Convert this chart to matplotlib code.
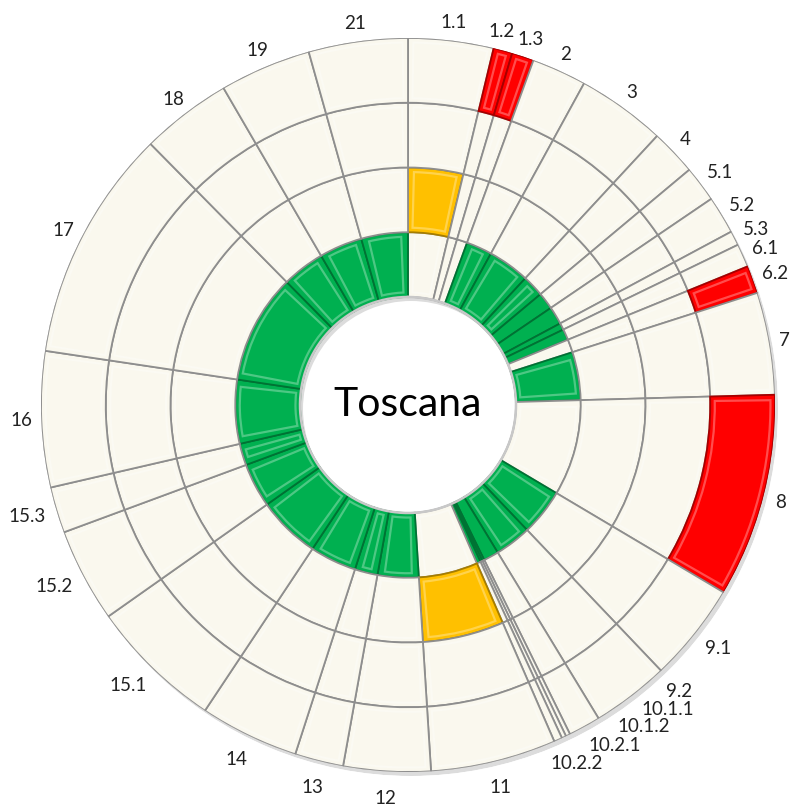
import numpy as np
import matplotlib.pyplot as plt
from matplotlib.colors import to_rgb

# segmenti (in senso orario dalle ore 12), ampiezza in gradi e livello colorato
labels = ["1.1", "1.2", "1.3", "2", "3", "4", "5.1", "5.2", "5.3", "6.1", "6.2",
          "7", "8", "9.1", "9.2", "10.1.1", "10.1.2", "10.2.1", "10.2.2", "11",
          "12", "13", "14", "15.1", "15.2", "15.3", "16", "17", "18", "19", "21"]
widths = [13.5, 3.0, 3.5, 8.7, 14.1, 7.3, 5.7, 6.0, 2.3, 3.7, 4.4,
          16.2, 32.3, 15.7, 12.3, 5.1, 0.7, 0.7, 1.3, 19.9,
          13.8, 7.7, 15.7, 21.2, 14.9, 7.3, 21.5, 36.9, 14.4, 14.5, 15.7]
levels = [2, 4, 4, 1, 1, 1, 1, 1, 1, 1, 4,
          1, 4, 1, 1, 1, 1, 1, 1, 2,
          1, 1, 1, 1, 1, 1, 1, 1, 1, 1, 1]
title = "Toscana"

level_colors = {1: "#00B050", 2: "#FFC000", 3: "#ED7D31", 4: "#FF0000"}
cream = "#FAF8EE"
n_rings = 4
px = 64.75             # pixel per anello
hole = 108 / px


def mix(c, other, f):
    a, b = np.array(to_rgb(c)), np.array(to_rgb(other))
    return tuple(a * (1 - f) + b * f)


plt.rcParams["font.family"] = ["Lato", "DejaVu Sans"]

fig = plt.figure(figsize=(7.91, 8.08), dpi=100)

# ombra esterna leggera (solo la corona)
sh = fig.add_axes([44 / 791, 32 / 808, 734 / 791, 734 / 808], projection="polar")
sh.bar([0], [n_rings], width=2 * np.pi, bottom=hole, color="#dcdcdc",
       edgecolor="none")
sh.set_ylim(0, hole + n_rings)
sh.set_axis_off()

ax = fig.add_axes([41 / 791, 36 / 808, 734 / 791, 734 / 808], projection="polar")
ax.set_theta_zero_location("N")
ax.set_theta_direction(-1)

w = np.array(widths) / sum(widths) * 2 * np.pi
starts = np.concatenate([[0], np.cumsum(w)[:-1]])

for k in range(n_rings):
    faces = [level_colors[lv] if lv == k + 1 else cream for lv in levels]
    edges = [mix(f, "black", 0.35) if f != cream else "#8e8e8e" for f in faces]
    ax.bar(starts, 1, width=w, bottom=hole + k, align="edge", color=faces,
           edgecolor=edges, linewidth=1.3, zorder=2)
    # riflesso interno (effetto rilievo)
    r_in = hole + k + 0.07
    for s, ww, f in zip(starts, w, faces):
        dth = 0.07 / r_in
        if ww > 3 * dth:
            ax.bar(s + dth, 0.86, width=ww - 2 * dth, bottom=r_in, align="edge",
                   color="none", edgecolor=mix(f, "white", 0.3), linewidth=1.6,
                   zorder=3)

# contorni esterno e interno
t = np.linspace(0, 2 * np.pi, 400)
ax.plot(t, np.full_like(t, hole + n_rings), color="#b0b0b0", lw=2.2, zorder=1)
ax.plot(t, np.full_like(t, hole), color="#c8c8c8", lw=1.8, zorder=4)

ax.set_ylim(0, hole + n_rings)
ax.set_axis_off()

ax.text(0, 0, title, ha="center", va="center", fontsize=29.5, color="black")

# etichette: a metà segmento, spostate all'indietro dove sono troppo fitte
fs = 13.5
mids = np.degrees(starts + w / 2)
lab_ang = mids.copy()
r_px = 390
for i in range(len(lab_ang) - 2, -1, -1):
    th = np.radians(lab_ang[i + 1])
    w_px = (len(labels[i]) + len(labels[i + 1])) * fs * 0.3 + 4
    need_v = 16.5 / (r_px * max(abs(np.sin(th)), 1e-3))
    need_h = w_px / (r_px * max(abs(np.cos(th)), 1e-3))
    need = np.degrees(min(need_v, need_h))
    if lab_ang[i] > lab_ang[i + 1] - need:
        lab_ang[i] = lab_ang[i + 1] - need

for lab, a in zip(labels, lab_ang):
    th = np.radians(a)
    r_lab = hole + n_rings + (11 + 9 * max(0.0, -np.cos(th))) / px
    half_w = len(lab) * fs * 0.27
    half_h = fs * 0.38
    ax.annotate(lab, xy=(th, r_lab),
                xytext=(np.sin(th) * half_w * 0.85, np.cos(th) * half_h),
                textcoords="offset points", ha="center", va="center",
                fontsize=fs, color="#222222", annotation_clip=False)

fig.savefig("out.png", dpi=100, facecolor="white")
